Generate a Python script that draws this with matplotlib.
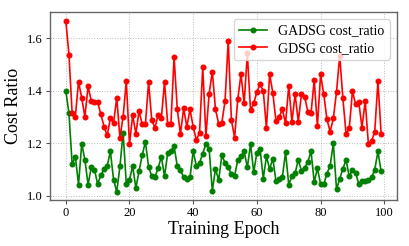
import matplotlib
matplotlib.use("Agg")
import matplotlib.pyplot as plt

# Cost ratio per training epoch
epochs = list(range(100))

gadsg_ratio = [
    1.400, 1.314, 1.120, 1.149, 1.043, 1.198, 1.137, 1.043, 1.108, 1.100,
    1.045, 1.079, 1.101, 1.114, 1.169, 1.062, 1.015, 1.112, 1.241, 1.045,
    1.061, 1.113, 1.030, 1.094, 1.155, 1.206, 1.110, 1.075, 1.071, 1.107,
    1.149, 1.075, 1.162, 1.170, 1.189, 1.114, 1.098, 1.070, 1.066, 1.070,
    1.170, 1.113, 1.126, 1.161, 1.199, 1.180, 1.020, 1.102, 1.060, 1.154,
    1.126, 1.108, 1.083, 1.077, 1.136, 1.150, 1.170, 1.108, 1.197, 1.090,
    1.165, 1.180, 1.066, 1.150, 1.102, 1.142, 1.055, 1.064, 1.072, 1.166,
    1.043, 1.074, 1.087, 1.137, 1.095, 1.107, 1.130, 1.169, 1.052, 1.105,
    1.045, 1.045, 1.085, 1.115, 1.200, 1.025, 1.065, 1.104, 1.136, 1.074,
    1.100, 1.088, 1.044, 1.055, 1.057, 1.061, 1.070, 1.100, 1.169, 1.093,
]

gdsg_ratio = [
    1.667, 1.537, 1.314, 1.301, 1.434, 1.373, 1.301, 1.417, 1.361, 1.358,
    1.357, 1.311, 1.264, 1.230, 1.295, 1.277, 1.374, 1.221, 1.301, 1.437,
    1.197, 1.307, 1.237, 1.322, 1.272, 1.272, 1.433, 1.287, 1.260, 1.308,
    1.295, 1.434, 1.272, 1.272, 1.528, 1.331, 1.235, 1.333, 1.263, 1.329,
    1.263, 1.212, 1.241, 1.491, 1.228, 1.388, 1.473, 1.329, 1.275, 1.279,
    1.361, 1.590, 1.288, 1.222, 1.368, 1.463, 1.352, 1.542, 1.326, 1.352,
    1.396, 1.424, 1.400, 1.257, 1.463, 1.392, 1.284, 1.301, 1.329, 1.276,
    1.419, 1.282, 1.386, 1.282, 1.387, 1.377, 1.320, 1.316, 1.441, 1.265,
    1.462, 1.386, 1.291, 1.244, 1.295, 1.396, 1.533, 1.371, 1.235, 1.257,
    1.399, 1.348, 1.356, 1.260, 1.361, 1.199, 1.208, 1.244, 1.437, 1.237,
]

plt.rcParams['font.family'] = ['Liberation Serif', 'DejaVu Serif']

fig = plt.figure(figsize=(4.1, 2.46), dpi=100)
ax = fig.add_axes([0.122, 0.185, 0.846, 0.766])

ax.plot(epochs, gadsg_ratio, color='green', marker='o', markersize=3.3,
        linewidth=1.2, label='GADSG cost_ratio')
ax.plot(epochs, gdsg_ratio, color='red', marker='o', markersize=3.3,
        linewidth=1.2, label='GDSG cost_ratio')

ax.set_xlabel('Training Epoch', fontsize=13, labelpad=1)
ax.set_ylabel('Cost Ratio', fontsize=13, labelpad=4)
ax.set_xticks([0, 20, 40, 60, 80, 100])
ax.set_yticks([1.0, 1.2, 1.4, 1.6])
ax.tick_params(labelsize=9, length=3, width=0.8, color='#555555', pad=2)

ax.grid(True, linestyle=':', linewidth=0.7, color='#bbbbbb')
for s in ax.spines.values():
    s.set_color('#666666')
    s.set_linewidth(1.0)

ax.legend(loc='upper right', fontsize=10, framealpha=0.8, borderpad=0.4,
          handlelength=2.0, labelspacing=0.3)

fig.savefig('out.png', dpi=100)
